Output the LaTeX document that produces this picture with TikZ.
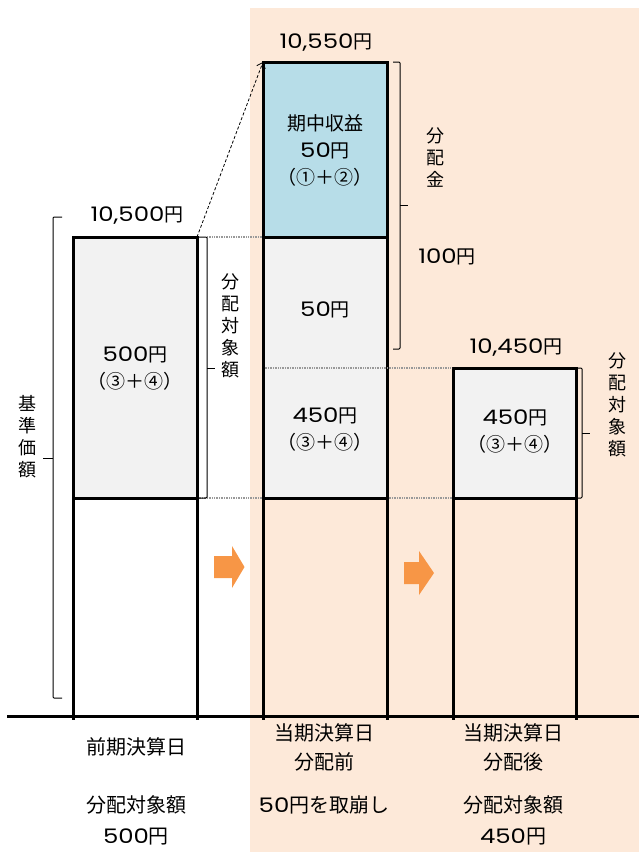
\documentclass[tikz,border=0pt]{standalone}
\usepackage{fontspec}
\setmainfont{Noto Sans CJK JP}
\newfontfamily\numfont{Poppins}[FakeStretch=1.22]
\usetikzlibrary{arrows.meta}
\definecolor{peach}{HTML}{FDE9D9}
\definecolor{boxblue}{HTML}{B7DDE8}
\definecolor{boxgray}{HTML}{F2F2F2}
\definecolor{arrorange}{HTML}{F79646}
\newcommand\nf[1]{{\numfont\fontsize{20}{27}\selectfont #1}}
\begin{document}
\begin{tikzpicture}[x=1pt,y=-1pt,
  colbox/.style={draw=black,line width=3pt,inner sep=0pt,outer sep=0pt,anchor=north west},
  colline/.style={line width=3pt},
  lbl/.style={font=\fontsize{19}{27}\selectfont,align=center,inner sep=0pt},
  vlbl/.style={font=\fontsize{18}{22}\selectfont,align=center,inner sep=0pt},
  brk/.style={line width=1pt,black,rounded corners=1pt},
  guide/.style={line width=2pt,gray!80,dash pattern=on 1pt off 0.7pt},
  orangearrow/.style={fill=arrorange},
]
\useasboundingbox (0,0) rectangle (639,852);
\fill[peach] (250,8) rectangle (639,852);

% column boxes
\node[colbox,fill=boxgray,minimum width=124pt,minimum height=261pt] (Lg) at (73,237) {};
\node[colbox,fill=boxblue,minimum width=124pt,minimum height=175pt] (Mb) at (263,62) {};
\node[colbox,fill=boxgray,minimum width=124pt,minimum height=261pt] (Mg) at (263,237) {};
\node[colbox,fill=boxgray,minimum width=123pt,minimum height=130pt] (Rg) at (453,368) {};

% base line
\coordinate (baseL) at (7,716);
\coordinate (baseR) at (639,716);
\draw[line width=3pt] (baseL) -- (baseR);

% column sides down to the base line
\draw[colline] (Lg.south west) -- ++(0,222);
\draw[colline] (Lg.south east) -- ++(0,222);
\draw[colline] (Mg.south west) -- ++(0,222);
\draw[colline] (Mg.south east) -- ++(0,222);
\draw[colline] (Rg.south west) -- ++(0,222);
\draw[colline] (Rg.south east) -- ++(0,222);

% guide lines
\draw[guide] ([xshift=10pt]Lg.north east) -- ([xshift=-1.5pt]Mg.north west);
\draw[guide] ([xshift=1.5pt]Lg.south east) -- ([xshift=-1.5pt]Mg.south west);
\draw[guide] ([xshift=1.5pt]Mg.west |- Rg.north) -- ([xshift=-1.5pt]Rg.north west);
\draw[guide] ([xshift=1.5pt]Mg.south east) -- ([xshift=-1.5pt]Rg.south west);

% dashed arrow
\draw[line width=0.8pt,dash pattern=on 3pt off 2pt,-{Straight Barb[length=5pt,width=9pt]}] (Lg.north east) -- (Mb.north west);

% brackets
\draw[brk] (62,217) -- (53,217) -- (53,698) -- (62,698);
\draw[brk] (53,458) -- (43,458);
\draw[brk] (Lg.north east) -- (207,237) -- (207,498) -- (Lg.south east);
\draw[brk] (207,368) -- (215,368);
\draw[brk] (393,62) -- (400,62) -- (400,349) -- (393,349);
\draw[brk] (400,205) -- (408,205);
\draw[brk] (Rg.north east) -- (582,368) -- (582,498) -- (Rg.south east);
\draw[brk] (582,433) -- (590,433);

% orange arrows
\fill[orangearrow] (214,556) -- (232,556) -- (232,546) -- (244.5,567) -- (232,588) -- (232,578) -- (214,578) -- cycle;
\fill[orangearrow] (404,562) -- (419,562) -- (419,551) -- (434,573) -- (419,595) -- (419,584) -- (404,584) -- cycle;

% top values
\node[lbl] (vL) at (137,216) {\nf{10,500}円};
\node[lbl] (vM) at (326,43) {\nf{10,550}円};
\node[lbl] (vR) at (516,348) {\nf{10,450}円};

% box texts
\node[lbl] (tMb) at (325,150) {期中収益\\\nf{50}円\\（①＋②）};
\node[lbl] (tMg1) at (325,310) {\nf{50}円};
\node[lbl] (tMg2) at (325,430) {\nf{450}円\\（③＋④）};
\node[lbl] (tLg) at (135,369) {\nf{500}円\\（③＋④）};
\node[lbl] (tRg) at (515,432) {\nf{450}円\\（③＋④）};
\node[lbl] (t100) at (447,257) {\nf{100}円};

% vertical labels
\node[vlbl] (kijun) at (27,437) {基\\準\\価\\額};
\node[vlbl] (taisho1) at (230,326) {分\\配\\対\\象\\額};
\node[vlbl] (bunpai) at (435,158) {分\\配\\金};
\node[vlbl] (taisho2) at (617,405) {分\\配\\対\\象\\額};

% bottom labels
\node[lbl,font=\fontsize{20}{29}\selectfont] (b1) at (136,747) {前期決算日};
\node[lbl,font=\fontsize{20}{29}\selectfont] (b2) at (324,747) {当期決算日\\分配前};
\node[lbl,font=\fontsize{20}{29}\selectfont] (b3) at (513,747) {当期決算日\\分配後};
\node[lbl,font=\fontsize{20}{29}\selectfont] (c1) at (136,805) {分配対象額};
\node[lbl,font=\fontsize{20}{29}\selectfont] (c2) at (324,805) {\nf{50}円を取崩し};
\node[lbl,font=\fontsize{20}{29}\selectfont] (c3) at (513,805) {分配対象額};
\node[lbl,font=\fontsize{20}{29}\selectfont] (d1) at (136,837) {\nf{500}円};
\node[lbl,font=\fontsize{20}{29}\selectfont] (d3) at (513,837) {\nf{450}円};
\end{tikzpicture}
\end{document}
